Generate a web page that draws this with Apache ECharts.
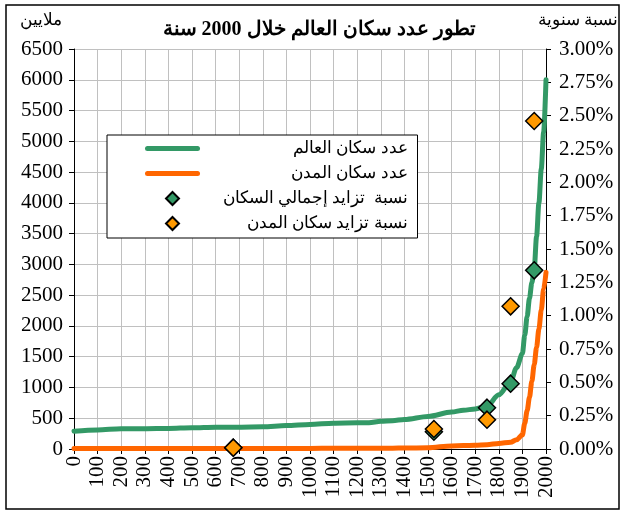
<!DOCTYPE html>
<html>
<head>
<meta charset="utf-8">
<script src="https://cdn.jsdelivr.net/npm/echarts@6/dist/echarts.min.js"></script>
<style>
html,body{margin:0;padding:0;background:#fff;}
#chart{width:624px;height:516px;}
</style>
</head>
<body>
<div id="chart"></div>
<script>
// ---- Data ----
const titleText = 'تطور عدد سكان العالم خلال 2000 سنة';
const leftAxisName = 'ملايين';
const rightAxisName = 'نسبة سنوية';
const seriesNames = ['عدد سكان العالم', 'عدد سكان المدن', 'نسبة  تزايد إجمالي السكان', 'نسبة تزايد سكان المدن'];

const years = [0,100,200,300,400,500,600,700,800,900,1000,1100,1200,1250,1300,1350,1400,1500,1600,1650,1700,1750,1800,1850,1875,1900,1910,1920,1930,1940,1950,1960,1970,1980,1990,2000];
const worldPop = [290,310,330,330,335,345,355,355,360,380,400,420,425,425,450,460,480,530,600,630,650,700,880,1090,1320,1550,1850,2150,2450,2700,2920,3450,4000,4550,5150,6000];
const urbanPop = [8,8,8,8,8,8,8,8,8,10,10,12,12,12,14,14,16,20,50,55,60,70,90,110,150,230,420,620,840,1100,1370,1650,1950,2260,2600,2870];

const rateYears = [675,1525,1750,1850,1950];
const worldRate = [0.0001,0.0013,0.0031,0.0049,0.0134];
const urbanRate = [0.0001,0.0015,0.0022,0.0107,0.0246];

const xMin = 0, xMax = 2000, xStep = 100;
const yMin = 0, yMax = 6500, yStep = 500;
const rMin = 0, rMax = 0.03, rStep = 0.0025;

// ---- Build ----
const pairs = (xs, ys) => xs.map((x, i) => [x, ys[i]]);
const serif = '"Liberation Serif", "Times New Roman", "DejaVu Serif", serif';
const lineColors = ['#339966', '#ff6600'];
const diamondPath = 'path://M0,-1L1,0L0,1L-1,0Z';

const chart = echarts.init(document.getElementById('chart'), null, {renderer: 'canvas'});
chart.setOption({
  animation: false,
  backgroundColor: '#fff',
  title: {
    text: titleText,
    left: 314,
    textAlign: 'center',
    top: 15,
    textStyle: {fontFamily: serif, fontSize: 20, fontWeight: 'bold', color: '#000'}
  },
  graphic: [{
    type: 'rect', z: 0, silent: true,
    shape: {x: 6, y: 5, width: 613, height: 504},
    style: {fill: 'none', stroke: '#000', lineWidth: 1.5}
  }],
  legend: {
    orient: 'vertical',
    left: 107, top: 135,
    padding: [5, 10, 6, 38],
    itemGap: 8,
    itemWidth: 50, itemHeight: 13,
    symbolKeepAspect: true,
    backgroundColor: '#fff',
    borderColor: '#000', borderWidth: 1,
    data: [
      {name: seriesNames[0], itemStyle: {opacity: 0}, lineStyle: {width: 5, cap: 'round', color: lineColors[0]}},
      {name: seriesNames[1], itemStyle: {opacity: 0}, lineStyle: {width: 5, cap: 'round', color: lineColors[1]}},
      {name: seriesNames[2], icon: diamondPath},
      {name: seriesNames[3], icon: diamondPath}
    ],
    formatter: n => '{t|' + n + '}',
    textStyle: {
      fontFamily: serif, fontSize: 17, color: '#000', lineHeight: 16,
      rich: {t: {width: 205, align: 'right', fontFamily: serif, fontSize: 17, lineHeight: 16, color: '#000'}}
    }
  },
  grid: {left: 74, right: 78, top: 49, bottom: 67, containLabel: false},
  xAxis: {
    type: 'value', min: xMin, max: xMax, interval: xStep,
    axisLine: {show: true, onZero: false, lineStyle: {color: '#000', width: 1}},
    axisTick: {show: true, length: 5, lineStyle: {color: '#000'}},
    axisLabel: {rotate: 90, margin: 7, fontFamily: serif, fontSize: 21, color: '#000',
      formatter: v => String(v)},
    splitLine: {show: true, lineStyle: {color: '#c0c0c0', width: 1}}
  },
  yAxis: [{
    type: 'value', min: yMin, max: yMax, interval: yStep,
    name: leftAxisName, nameLocation: 'end', nameGap: 20,
    nameTextStyle: {fontFamily: serif, fontSize: 17, color: '#000', align: 'right', padding: [0, 12, 0, 0]},
    axisLine: {show: true, lineStyle: {color: '#000', width: 1}},
    axisTick: {show: true, length: 5, lineStyle: {color: '#000'}},
    axisLabel: {margin: 11, fontFamily: serif, fontSize: 21, color: '#000',
      formatter: v => String(v)},
    splitLine: {show: true, lineStyle: {color: '#c0c0c0', width: 1}}
  }, {
    type: 'value', min: rMin, max: rMax, interval: rStep, position: 'right',
    name: rightAxisName, nameLocation: 'end', nameGap: 20,
    nameTextStyle: {fontFamily: serif, fontSize: 17, color: '#000', align: 'right', padding: [0, -72, 0, 0]},
    axisLine: {show: true, lineStyle: {color: '#000', width: 1}},
    axisTick: {show: true, length: 5, lineStyle: {color: '#000'}},
    axisLabel: {margin: 13, fontFamily: serif, fontSize: 21, color: '#000',
      formatter: v => (v * 100).toFixed(2) + '%'},
    splitLine: {show: false}
  }],
  series: [{
    name: seriesNames[0], type: 'line', yAxisIndex: 0,
    data: pairs(years, worldPop),
    showSymbol: false, symbol: 'none', smooth: 0.3, smoothMonotone: 'x',
    lineStyle: {color: lineColors[0], width: 5, cap: 'round', join: 'round'},
    itemStyle: {color: lineColors[0]}, z: 3
  }, {
    name: seriesNames[1], type: 'line', yAxisIndex: 0,
    data: pairs(years, urbanPop),
    showSymbol: false, symbol: 'none', smooth: 0.3, smoothMonotone: 'x',
    lineStyle: {color: lineColors[1], width: 5, cap: 'round', join: 'round'},
    itemStyle: {color: lineColors[1]}, z: 3
  }, {
    name: seriesNames[2], type: 'scatter', yAxisIndex: 1,
    data: pairs(rateYears, worldRate),
    symbol: 'diamond', symbolSize: 17,
    itemStyle: {color: '#339966', borderColor: '#000', borderWidth: 1.5, opacity: 1}, z: 4
  }, {
    name: seriesNames[3], type: 'scatter', yAxisIndex: 1,
    data: pairs(rateYears, urbanRate),
    symbol: 'diamond', symbolSize: 17,
    itemStyle: {color: '#ff9900', borderColor: '#000', borderWidth: 1.5, opacity: 1}, z: 5
  }]
});
</script>
</body>
</html>
